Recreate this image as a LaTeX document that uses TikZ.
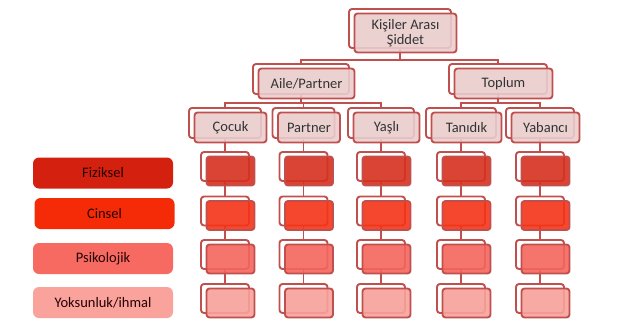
\documentclass[tikz,border=0pt]{standalone}
\usepackage{fontspec}
\setmainfont{Carlito}
\usetikzlibrary{calc,backgrounds}

\definecolor{kenar}{HTML}{C0504D}
\definecolor{pembe}{HTML}{EACDCD}
\definecolor{metin}{HTML}{333333}
\definecolor{fizik}{HTML}{D4200F}
\definecolor{cins}{HTML}{F52B08}
\definecolor{psiko}{HTML}{F66A62}
\definecolor{yoksun}{HTML}{F9A39C}
\definecolor{satirA}{HTML}{D5301F}
\definecolor{satirB}{HTML}{F53418}
\definecolor{satirC}{HTML}{F4665E}
\definecolor{satirD}{HTML}{F7A19A}

\tikzset{
  backbox/.style={draw=kenar, line width=1.9pt, fill=white, rounded corners=3pt, inner sep=0pt},
  frontbox/.style={draw=kenar, line width=1.9pt, rounded corners=3pt, inner sep=0pt,
    fill opacity=0.9, text opacity=1, text=metin, align=center,
    font=\fontsize{14.5}{14.5}\selectfont},
  link/.style={draw=kenar, line width=1.9pt},
  legendbox/.style={rounded corners=6pt, minimum width=140pt, minimum height=31pt,
    inner sep=0pt, text=black!85!red, font=\fontsize{14.5}{14}\selectfont}
}

\newcommand{\ikibox}[6]{%
  \node[backbox, minimum width=#3, minimum height=#4] (#1-b) at #2 {};
  \node[frontbox, fill=#5, minimum width=#3, minimum height=#4] (#1) at ($(#1-b)+(5.5,4.5)$) {#6};}

\begin{document}
\begin{tikzpicture}[x=1pt, y=-1pt]
    \useasboundingbox (0,0) rectangle (622,335);
    \ikibox{kisiler}{(400,28.5)}{102pt}{39pt}{pembe}{Kişiler Arası\\Şiddet}
    \ikibox{aile}{(301,79)}{96pt}{30pt}{pembe}{Aile/Partner}
    \ikibox{toplum}{(498,79)}{98pt}{30pt}{pembe}{Toplum}
    \ikibox{cocuk}{(225,123)}{72pt}{30pt}{pembe}{Çocuk}
    \ikibox{partner}{(303.5,123)}{62pt}{30pt}{pembe}{Partner}
    \ikibox{yasli}{(381,123)}{66pt}{30pt}{pembe}{Yaşlı}
    \ikibox{tanidik}{(461,123)}{70pt}{30pt}{pembe}{Tanıdık}
    \ikibox{yabanci}{(540,123)}{68pt}{30pt}{pembe}{Yabancı}
    \foreach \c/\x in {1/225,2/303.5,3/381,4/461,5/540}
      \foreach \r/\y/\renk in {1/166.5/satirA,2/211/satirB,3/254.5/satirC,4/298.5/satirD}
        {\ikibox{c\c-r\r}{(\x,\y)}{48pt}{29pt}{\renk}{}}
    \node[legendbox, fill=fizik] (fiziksel) at (103,173) {Fiziksel};
    \node[legendbox, fill=cins] (cinsel) at (104.5,213.5) {Cinsel};
    \node[legendbox, fill=psiko] (psikolojik) at (103,258.5) {Psikolojik};
    \node[legendbox, fill=yoksun] (yoksunluk) at (103,302.5) {Yoksunluk/ihmal};
    \begin{scope}[on background layer]
      \draw[link] (kisiler-b.center) -- ++(0,31.5) -| (aile-b.center);
      \draw[link] (kisiler-b.center) -- ++(0,31.5) -| (toplum-b.center);
      \foreach \k in {cocuk,partner,yasli}
        \draw[link] (aile-b.center) -- ++(0,24) -| (\k-b.center);
      \foreach \k in {tanidik,yabanci}
        \draw[link] (toplum-b.center) -- ++(0,24) -| (\k-b.center);
      \foreach \k/\c in {cocuk/1,partner/2,yasli/3,tanidik/4,yabanci/5}
        \draw[link] (\k-b.center) -- (c\c-r1-b.center);
      \foreach \c in {1,...,5}
        \foreach \r/\n in {1/2,2/3,3/4}
          \draw[link] (c\c-r\r-b.center) -- (c\c-r\n-b.center);
    \end{scope}
\end{tikzpicture}
\end{document}
